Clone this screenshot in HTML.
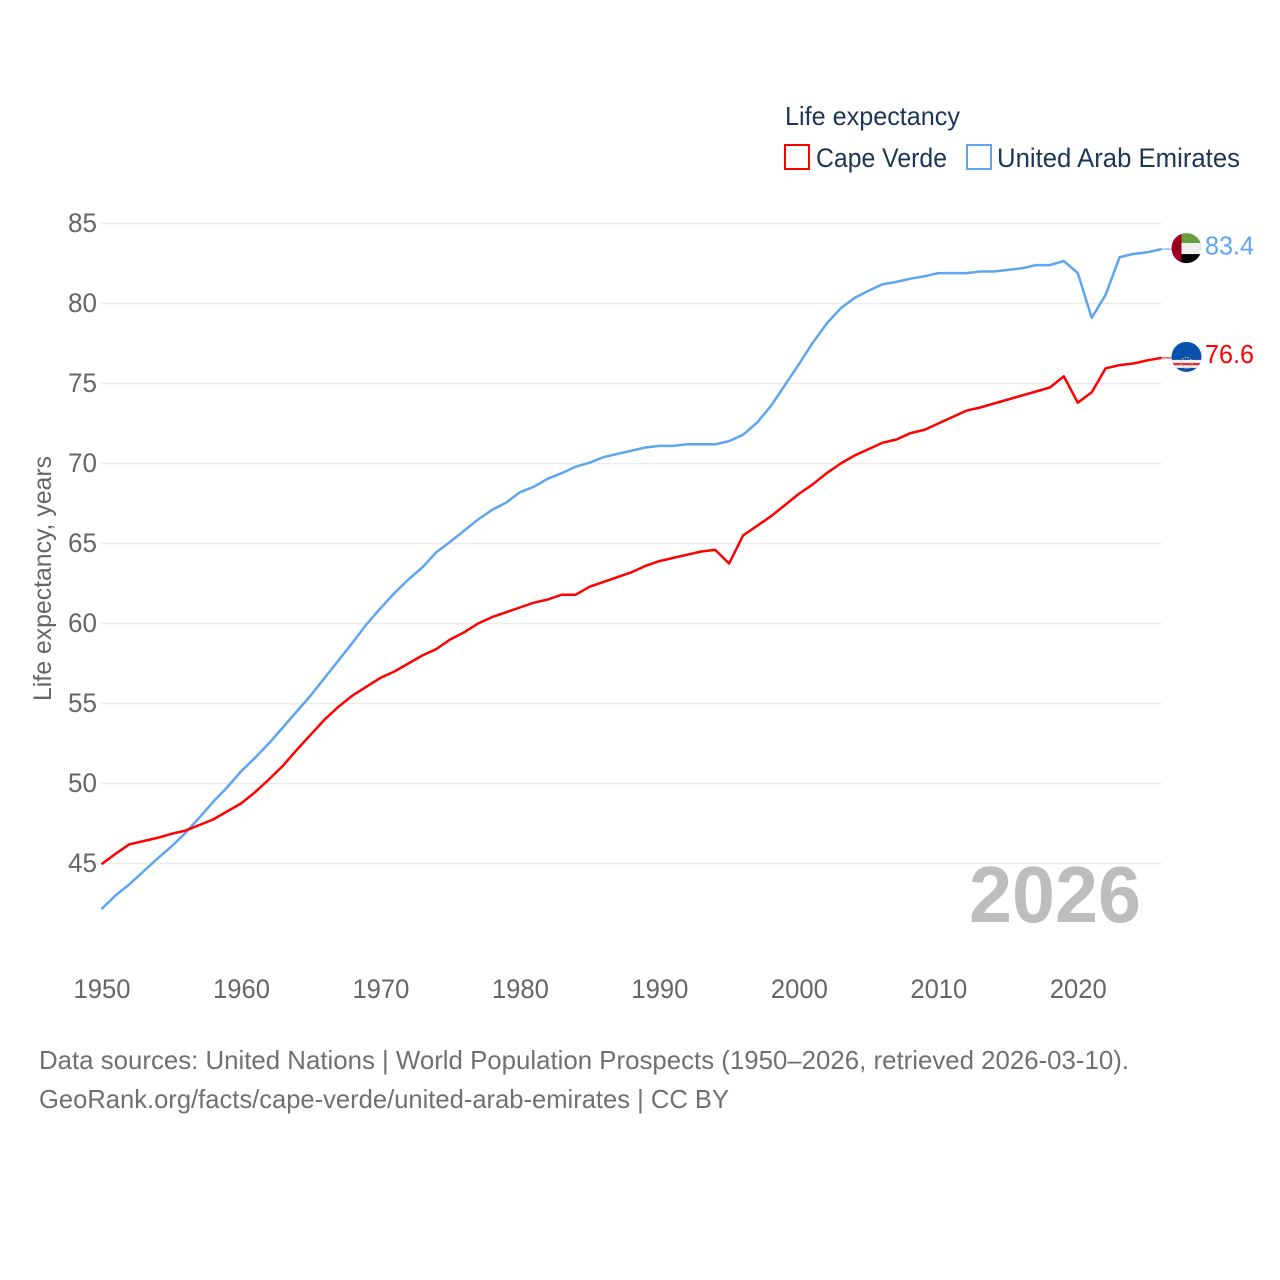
<!DOCTYPE html>
<html lang="en">
<head>
<meta charset="utf-8">
<title>Life expectancy: Cape Verde and United Arab Emirates</title>
<style>
html,body{margin:0;padding:0;background:#fff}
svg{display:block}
text{font-family:"Liberation Sans",sans-serif}
</style>
</head>
<body>
<svg id="chart" xmlns="http://www.w3.org/2000/svg" width="1280" height="1280" viewBox="0 0 1280 1280">
  <defs>
    <clipPath id="flag-clip"><circle cx="0" cy="0" r="15"/></clipPath>
  </defs>
  <rect x="0" y="0" width="1280" height="1280" fill="#fff"/>

  <g>
    <text x="785" y="125" font-size="26" fill="#1d3557" textLength="175" lengthAdjust="spacingAndGlyphs">Life expectancy</text>
    <g>
      <rect x="785" y="145" width="24" height="24" fill="none" stroke="#ff0000" stroke-width="2"/>
      <text x="816" y="167" font-size="27" fill="#1d3557" textLength="131" lengthAdjust="spacingAndGlyphs">Cape Verde</text>
    </g>
    <g>
      <rect x="967" y="145" width="24" height="24" fill="none" stroke="#5da5ee" stroke-width="2"/>
      <text x="997" y="167" font-size="27" fill="#1d3557" textLength="243" lengthAdjust="spacingAndGlyphs">United Arab Emirates</text>
    </g>
  </g>

  <g id="grid"></g>
  <g id="y-ticks"></g>
  <g id="x-ticks"></g>

  <text transform="translate(51,701) rotate(-90)" font-size="25" fill="#666" textLength="245" lengthAdjust="spacingAndGlyphs">Life expectancy, years</text>

  <text x="969" y="922" font-size="80" font-weight="700" fill="#bdbdbd" textLength="172" lengthAdjust="spacingAndGlyphs">2026</text>

  <g id="series"></g>

  <g id="flag-uae">
    <g clip-path="url(#flag-clip)">
      <rect x="-15" y="-16" width="30" height="11" fill="#6a9c3f"/>
      <rect x="-15" y="-5" width="30" height="11" fill="#eeeeee"/>
      <rect x="-15" y="6" width="30" height="10" fill="#000"/>
      <rect x="-15" y="-16" width="10" height="32" fill="#9b0020"/>
    </g>
  </g>
  <g id="flag-cv">
    <g clip-path="url(#flag-clip)">
      <rect x="-15" y="-16" width="30" height="32" fill="#0a50ad"/>
      <rect x="-15" y="3" width="30" height="8" fill="#f2f0f0"/>
      <rect x="-15" y="6" width="30" height="2.4" fill="#d8323c"/>
      <circle cx="0" cy="6" r="5.5" fill="none" stroke="#d9c98a" stroke-width="1" stroke-dasharray="1.5 1.5"/>
    </g>
  </g>

  <text id="value-uae" x="1205" y="254" font-size="25.5" fill="#5da5ee" textLength="49" lengthAdjust="spacingAndGlyphs"></text>
  <text id="value-cv" x="1205" y="363" font-size="25.5" fill="#ff0000" textLength="49" lengthAdjust="spacingAndGlyphs"></text>

  <text x="39" y="1069" font-size="26" fill="#707070" textLength="1090" lengthAdjust="spacingAndGlyphs">Data sources: United Nations | World Population Prospects (1950–2026, retrieved 2026-03-10).</text>
  <text x="39" y="1108" font-size="26" fill="#707070" textLength="690" lengthAdjust="spacingAndGlyphs">GeoRank.org/facts/cape-verde/united-arab-emirates | CC BY</text>
</svg>
<script>
const startYear = 1950;
const yTickValues = [45, 50, 55, 60, 65, 70, 75, 80, 85];
const xTickYears = [1950, 1960, 1970, 1980, 1990, 2000, 2010, 2020];
const capeVerde = [
  44.95, 45.6, 46.2, 46.4, 46.6, 46.85, 47.05, 47.4, 47.75, 48.25,
  48.75, 49.45, 50.25, 51.1, 52.1, 53.05, 54, 54.8, 55.5, 56.05,
  56.6, 57, 57.5, 58, 58.4, 59, 59.45, 60, 60.4, 60.7,
  61, 61.3, 61.5, 61.8, 61.8, 62.3, 62.6, 62.9, 63.2, 63.6,
  63.9, 64.1, 64.3, 64.5, 64.6, 63.75, 65.5, 66.1, 66.7, 67.4,
  68.1, 68.7, 69.4, 70, 70.5, 70.9, 71.3, 71.5, 71.9, 72.1,
  72.5, 72.9, 73.3, 73.5, 73.75, 74, 74.25, 74.5, 74.75, 75.45,
  73.8, 74.45, 75.95, 76.15, 76.25, 76.45, 76.6
];
const unitedArabEmirates = [
  42.15, 43, 43.7, 44.5, 45.3, 46.05, 46.9, 47.85, 48.85, 49.75,
  50.75, 51.6, 52.5, 53.5, 54.5, 55.5, 56.6, 57.7, 58.8, 59.95,
  60.95, 61.9, 62.75, 63.5, 64.45, 65.1, 65.8, 66.5, 67.1, 67.55,
  68.2, 68.55, 69.05, 69.4, 69.8, 70.05, 70.4, 70.6, 70.8, 71,
  71.1, 71.1, 71.2, 71.2, 71.2, 71.4, 71.8, 72.55, 73.6, 74.9,
  76.2, 77.55, 78.75, 79.7, 80.35, 80.8, 81.2, 81.35, 81.55, 81.7,
  81.9, 81.9, 81.9, 82, 82, 82.1, 82.2, 82.4, 82.4, 82.65,
  81.9, 79.1, 80.55, 82.9, 83.1, 83.2, 83.4
];

const SVG_NS = 'http://www.w3.org/2000/svg';
function xScale(year) { return 101.5 + (year - 1950) * 13.947; }
function yScale(value) { return 863.5 - (value - 45) * 16; }
function linePath(values) {
  return values.map(function (v, i) {
    return (i ? 'L' : 'M') + xScale(startYear + i).toFixed(2) + ' ' + yScale(v).toFixed(2);
  }).join(' ');
}

const gridGroup = document.getElementById('grid');
const yTickGroup = document.getElementById('y-ticks');
yTickValues.forEach(function (v) {
  const gridLine = document.createElementNS(SVG_NS, 'line');
  
  
  gridLine.setAttribute('x1', 101);
  gridLine.setAttribute('x2', xScale(2026));
  gridLine.setAttribute('y1', yScale(v));
  gridLine.setAttribute('y2', yScale(v));
  gridLine.setAttribute('stroke', '#ebebeb');
  gridLine.setAttribute('stroke-width', 1.5);
  gridGroup.appendChild(gridLine);

  const label = document.createElementNS(SVG_NS, 'text');
  
  
  label.setAttribute('x', 68);
  label.setAttribute('y', yScale(v) + 8.5);
  label.setAttribute('font-size', 26.5);
  label.setAttribute('fill', '#666');
  label.setAttribute('textLength', 29);
  label.setAttribute('lengthAdjust', 'spacingAndGlyphs');
  label.textContent = String(v);
  yTickGroup.appendChild(label);
});

const xTickGroup = document.getElementById('x-ticks');
xTickYears.forEach(function (year) {
  const label = document.createElementNS(SVG_NS, 'text');
  
  
  label.setAttribute('x', xScale(year) - 28);
  label.setAttribute('y', 998);
  label.setAttribute('font-size', 26.5);
  label.setAttribute('fill', '#666');
  label.setAttribute('textLength', 57);
  label.setAttribute('lengthAdjust', 'spacingAndGlyphs');
  label.textContent = String(year);
  xTickGroup.appendChild(label);
});

const seriesGroup = document.getElementById('series');

const uaeLine = document.createElementNS(SVG_NS, 'path');


uaeLine.setAttribute('d', linePath(unitedArabEmirates));
uaeLine.setAttribute('fill', 'none');
uaeLine.setAttribute('stroke', '#5da5ee');
uaeLine.setAttribute('stroke-width', 2.5);
uaeLine.setAttribute('stroke-linejoin', 'round');
seriesGroup.appendChild(uaeLine);

const cvLine = document.createElementNS(SVG_NS, 'path');


cvLine.setAttribute('d', linePath(capeVerde));
cvLine.setAttribute('fill', 'none');
cvLine.setAttribute('stroke', '#ff0000');
cvLine.setAttribute('stroke-width', 2.5);
cvLine.setAttribute('stroke-linejoin', 'round');
seriesGroup.appendChild(cvLine);

const uaeLast = unitedArabEmirates[unitedArabEmirates.length - 1];
const cvLast = capeVerde[capeVerde.length - 1];

const uaeConnector = document.createElementNS(SVG_NS, 'line');


uaeConnector.setAttribute('x1', xScale(2026));
uaeConnector.setAttribute('x2', 1172);
uaeConnector.setAttribute('y1', yScale(uaeLast));
uaeConnector.setAttribute('y2', yScale(uaeLast));
uaeConnector.setAttribute('stroke', '#5da5ee');
uaeConnector.setAttribute('stroke-width', 1);
seriesGroup.appendChild(uaeConnector);

const cvConnector = document.createElementNS(SVG_NS, 'line');


cvConnector.setAttribute('x1', xScale(2026));
cvConnector.setAttribute('x2', 1172);
cvConnector.setAttribute('y1', yScale(cvLast));
cvConnector.setAttribute('y2', yScale(cvLast));
cvConnector.setAttribute('stroke', '#ff0000');
cvConnector.setAttribute('stroke-width', 1);
seriesGroup.appendChild(cvConnector);

document.getElementById('flag-uae').setAttribute('transform', 'translate(1186.5,' + (yScale(uaeLast) - 1) + ')');
document.getElementById('flag-cv').setAttribute('transform', 'translate(1186.5,' + (yScale(cvLast) - 1) + ')');

const uaeValue = document.getElementById('value-uae');
uaeValue.setAttribute('y', yScale(uaeLast) + 5.3);
uaeValue.textContent = uaeLast.toFixed(1);

const cvValue = document.getElementById('value-cv');
cvValue.setAttribute('y', yScale(cvLast) + 5.3);
cvValue.textContent = cvLast.toFixed(1);
</script>
</body>
</html>
